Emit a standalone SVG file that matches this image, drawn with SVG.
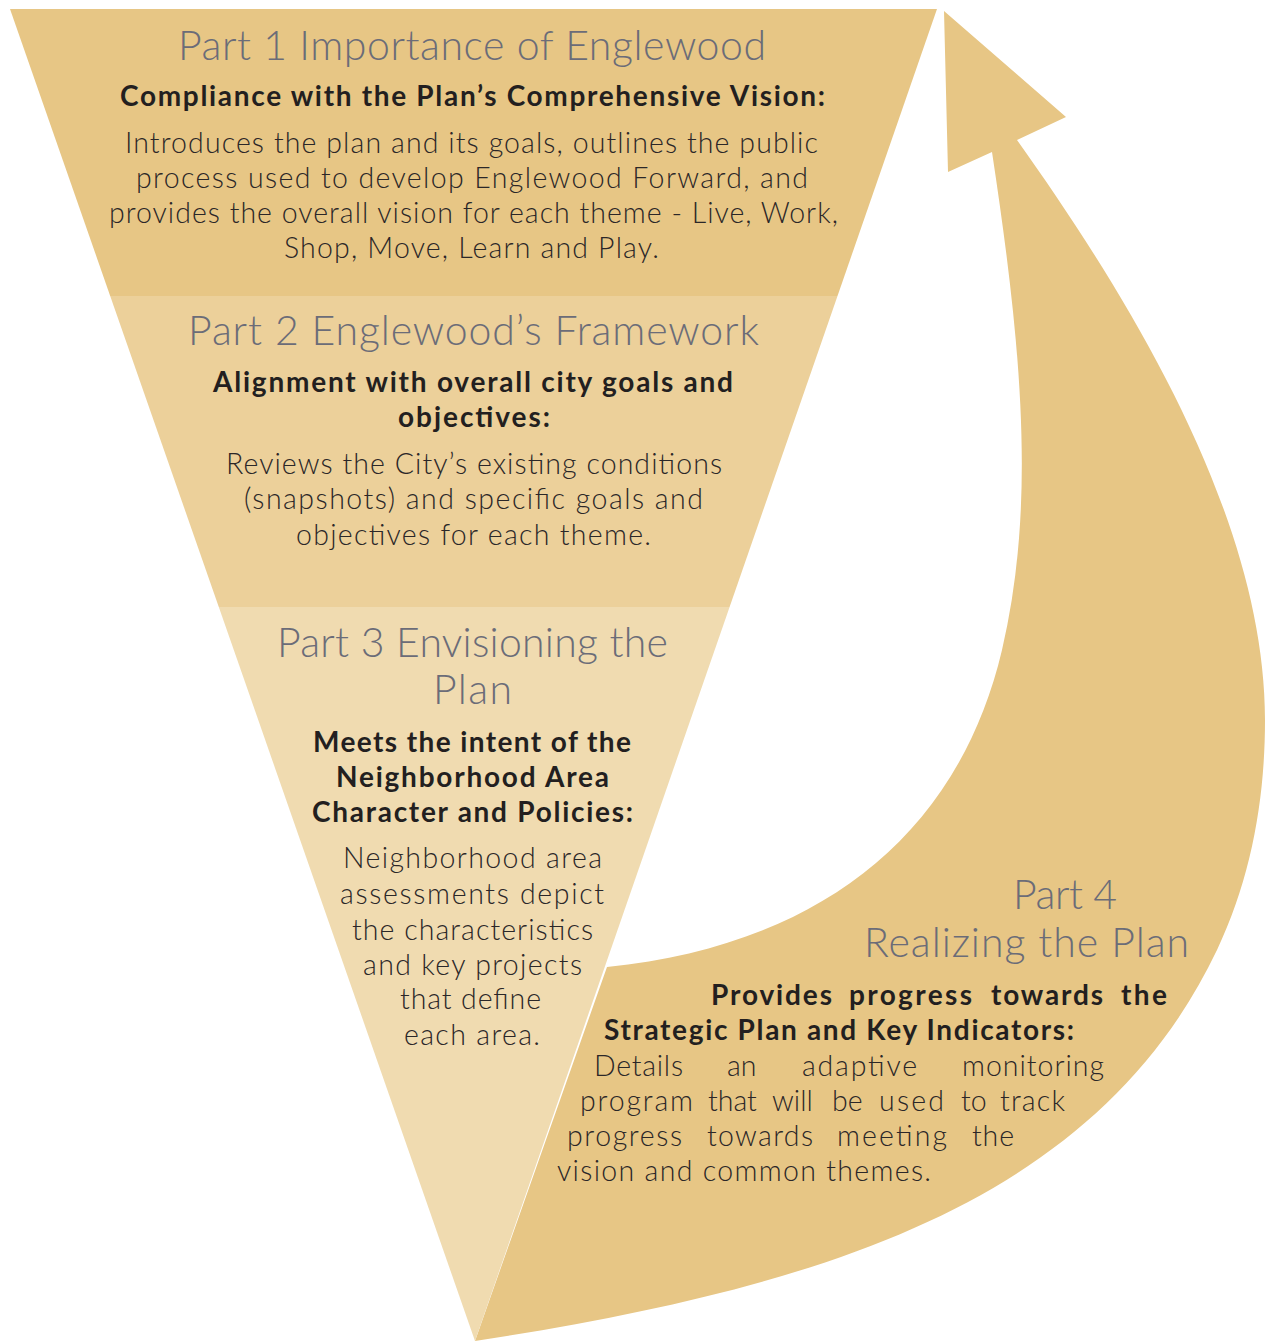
<svg xmlns="http://www.w3.org/2000/svg" width="1265" height="1341" viewBox="0 0 1265 1341">
<style>
text{font-family:Lato,"Liberation Sans",sans-serif}
.title{font-weight:300;font-size:41px;fill:#6B6C78}
.bold{font-weight:700;font-size:28px;fill:#231F20}
.body{font-weight:300;font-size:28.5px;fill:#2B2728}
.b1{fill:#E7C685}
.b2{fill:#ECD09A}
.b3{fill:#F0DBB0}
</style>
<rect width="1265" height="1341" fill="#FFFFFF"/>
<g id="connectors">
<path id="return-arrow" class="b1" d="M475,1341 C825,1287 1097,1202 1217,950 C1251,878 1265,800 1265,720 C1265,520 1133,303 1017,140 L1066,117 L944,11 L948,172 L992,152 C1022,350 1036,504 1002,650 C956,845 807,947 607,967 Z"/>
</g>
<g id="part1">
<polygon class="b1" points="10,9 937,9 837.5,296 110.2,296"/>
<text class="title" x="178" y="60" textLength="588" lengthAdjust="spacing">Part 1 Importance of Englewood</text>
<text class="bold" x="120" y="106" textLength="705" lengthAdjust="spacing">Compliance with the Plan’s Comprehensive Vision:</text>
<text class="body" x="125" y="153" textLength="693" lengthAdjust="spacing">Introduces the plan and its goals, outlines the public</text>
<text class="body" x="136" y="188" textLength="672" lengthAdjust="spacing">process used to develop Englewood Forward, and</text>
<text class="body" x="109" y="223" textLength="729" lengthAdjust="spacing">provides the overall vision for each theme - Live, Work,</text>
<text class="body" x="284" y="258" textLength="375" lengthAdjust="spacing">Shop, Move, Learn and Play.</text>
</g>
<g id="part2">
<polygon class="b2" points="110.2,296 837.5,296 729.6,607 218.8,607"/>
<text class="title" x="188" y="345" textLength="571" lengthAdjust="spacing">Part 2 Englewood’s Framework</text>
<text class="bold" x="213" y="392" textLength="520" lengthAdjust="spacing">Alignment with overall city goals and</text>
<text class="bold" x="398" y="427" textLength="152" lengthAdjust="spacing">objectives:</text>
<text class="body" x="226" y="474" textLength="496" lengthAdjust="spacing">Reviews the City’s existing conditions</text>
<text class="body" x="244" y="509" textLength="459" lengthAdjust="spacing">(snapshots) and specific goals and</text>
<text class="body" x="296" y="545" textLength="355" lengthAdjust="spacing">objectives for each theme.</text>
</g>
<g id="part3">
<polygon class="b3" points="218.8,607 729.6,607 475,1341"/>
<text class="title" x="277" y="657" textLength="391" lengthAdjust="spacing">Part 3 Envisioning the</text>
<text class="title" x="433" y="704" textLength="79" lengthAdjust="spacing">Plan</text>
<text class="bold" x="313" y="752" textLength="318" lengthAdjust="spacing">Meets the intent of the</text>
<text class="bold" x="336" y="787" textLength="273" lengthAdjust="spacing">Neighborhood Area</text>
<text class="bold" x="312" y="822" textLength="321" lengthAdjust="spacing">Character and Policies:</text>
<text class="body" x="343" y="868" textLength="259" lengthAdjust="spacing">Neighborhood area</text>
<text class="body" x="340" y="904" textLength="264" lengthAdjust="spacing">assessments depict</text>
<text class="body" x="352" y="940" textLength="241" lengthAdjust="spacing">the characteristics</text>
<text class="body" x="363" y="975" textLength="219" lengthAdjust="spacing">and key projects</text>
<text class="body" x="400" y="1009" textLength="141" lengthAdjust="spacing">that define</text>
<text class="body" x="404" y="1045" textLength="136" lengthAdjust="spacing">each area.</text>
</g>
<g id="part4">
<text class="title" x="1013" y="909" textLength="104" lengthAdjust="spacing">Part 4</text>
<text class="title" x="864" y="957" textLength="325" lengthAdjust="spacing">Realizing the Plan</text>
<text class="bold" y="1005"><tspan x="711" textLength="121">Provides</tspan><tspan x="849" textLength="123">progress</tspan><tspan x="991" textLength="112">towards</tspan><tspan x="1121" textLength="46">the</tspan></text>
<text class="bold" x="604" y="1040" textLength="470" lengthAdjust="spacing">Strategic Plan and Key Indicators:</text>
<text class="body" y="1076"><tspan x="594" textLength="89">Details</tspan><tspan x="727">an</tspan><tspan x="802" textLength="115">adaptive</tspan><tspan x="962" textLength="142">monitoring</tspan></text>
<text class="body" y="1111"><tspan x="580" textLength="113">program</tspan><tspan x="708">that</tspan><tspan x="772">will</tspan><tspan x="832">be</tspan><tspan x="879" textLength="65">used</tspan><tspan x="961">to</tspan><tspan x="1000" textLength="65">track</tspan></text>
<text class="body" y="1146"><tspan x="567" textLength="115">progress</tspan><tspan x="707" textLength="106">towards</tspan><tspan x="837" textLength="110">meeting</tspan><tspan x="972" textLength="42">the</tspan></text>
<text class="body" x="557" y="1181" textLength="374" lengthAdjust="spacing">vision and common themes.</text>
</g>
</svg>
